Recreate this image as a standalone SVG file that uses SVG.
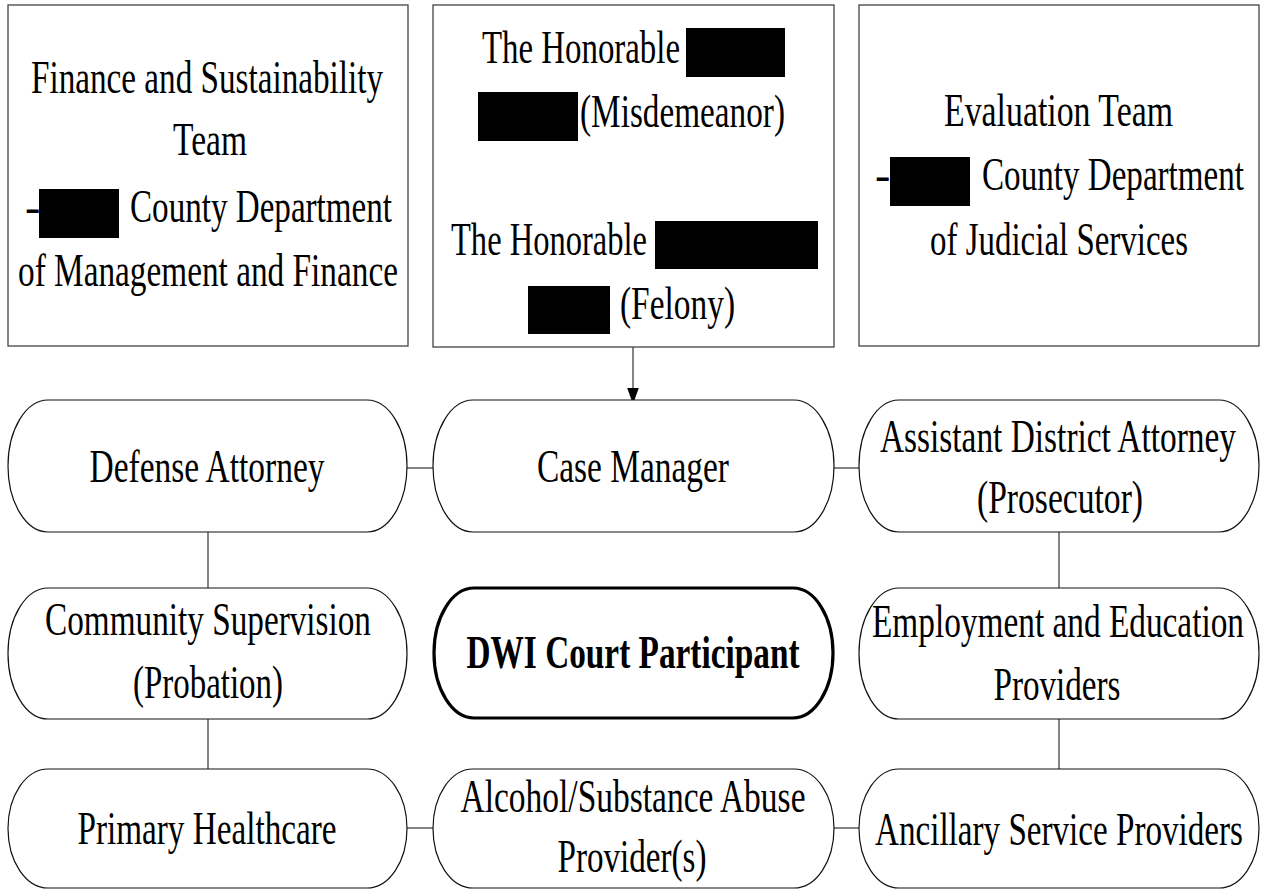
<svg xmlns="http://www.w3.org/2000/svg" width="1263" height="890" viewBox="0 0 1263 890">
<style>
.box{fill:#fff;stroke:#444;stroke-width:1.3}
.pill{fill:#fff;stroke:#111;stroke-width:1.2}
.main{fill:#fff;stroke:#000;stroke-width:3.2}
.t{font-family:"Liberation Serif","Times New Roman",serif;font-size:46px;fill:#000}
.c{text-anchor:middle}
.b{font-weight:bold}
.red{fill:#000}
.con{stroke:#333;stroke-width:1.2;fill:none}
</style>
<defs>
<marker id="ah" markerWidth="16" markerHeight="22" refX="15" refY="8" orient="auto" markerUnits="userSpaceOnUse" viewBox="0 0 22 16">
<path d="M0,0 L22,8 L0,16 Z" fill="#000"/>
</marker>
</defs>
<g id="connectors">
<line class="con" x1="633" y1="347" x2="633" y2="399" marker-end="url(#ah)"/>
<line class="con" x1="407" y1="468" x2="433" y2="468"/>
<line class="con" x1="834" y1="468" x2="859" y2="468"/>
<line class="con" x1="407" y1="828" x2="433" y2="828"/>
<line class="con" x1="834" y1="828" x2="859" y2="828"/>
<line class="con" x1="208" y1="532" x2="208" y2="588"/>
<line class="con" x1="208" y1="719" x2="208" y2="769"/>
<line class="con" x1="1059" y1="532" x2="1059" y2="588"/>
<line class="con" x1="1059" y1="719" x2="1059" y2="769"/>
</g>
<g id="finance">
<rect class="box" x="8" y="5" width="400" height="341"/>
<text class="t c" x="207" y="93" textLength="352" lengthAdjust="spacingAndGlyphs">Finance and Sustainability</text>
<text class="t c" x="210" y="155" textLength="74" lengthAdjust="spacingAndGlyphs">Team</text>
<text class="t" x="25" y="222">-</text>
<rect class="red" x="39" y="189" width="80" height="49"/>
<text class="t" x="130" y="222" textLength="262" lengthAdjust="spacingAndGlyphs">County Department</text>
<text class="t c" x="208" y="286" textLength="380" lengthAdjust="spacingAndGlyphs">of Management and Finance</text>
</g>
<g id="judges">
<rect class="box" x="433" y="5" width="401" height="342"/>
<text class="t" x="482" y="63" textLength="198" lengthAdjust="spacingAndGlyphs">The Honorable</text>
<rect class="red" x="686" y="28" width="99" height="49"/>
<rect class="red" x="478" y="92" width="100" height="49"/>
<text class="t" x="580" y="127" textLength="205" lengthAdjust="spacingAndGlyphs">(Misdemeanor)</text>
<text class="t" x="451" y="255" textLength="196" lengthAdjust="spacingAndGlyphs">The Honorable</text>
<rect class="red" x="655" y="221" width="163" height="48"/>
<rect class="red" x="528" y="286" width="82" height="48"/>
<text class="t" x="620" y="319" textLength="115" lengthAdjust="spacingAndGlyphs">(Felony)</text>
</g>
<g id="evaluation">
<rect class="box" x="859" y="5" width="400" height="341"/>
<text class="t" x="944" y="126" textLength="229" lengthAdjust="spacingAndGlyphs">Evaluation Team</text>
<text class="t" x="875" y="190">-</text>
<rect class="red" x="890" y="157" width="80" height="49"/>
<text class="t" x="982" y="190" textLength="262" lengthAdjust="spacingAndGlyphs">County Department</text>
<text class="t" x="930" y="255" textLength="258" lengthAdjust="spacingAndGlyphs">of Judicial Services</text>
</g>
<g id="defense">
<rect class="pill" x="8" y="400" width="399" height="132" rx="40" ry="66"/>
<text class="t c" x="207" y="482" textLength="235" lengthAdjust="spacingAndGlyphs">Defense Attorney</text>
</g>
<g id="casemanager">
<rect class="pill" x="433" y="400" width="401" height="132" rx="40" ry="66"/>
<text class="t c" x="633" y="482" textLength="192" lengthAdjust="spacingAndGlyphs">Case Manager</text>
</g>
<g id="ada">
<rect class="pill" x="859" y="400" width="400" height="132" rx="40" ry="66"/>
<text class="t c" x="1058" y="452" textLength="356" lengthAdjust="spacingAndGlyphs">Assistant District Attorney</text>
<text class="t c" x="1060" y="513" textLength="166" lengthAdjust="spacingAndGlyphs">(Prosecutor)</text>
</g>
<g id="community">
<rect class="pill" x="8" y="588" width="399" height="131" rx="40" ry="65.5"/>
<text class="t c" x="208" y="635" textLength="326" lengthAdjust="spacingAndGlyphs">Community Supervision</text>
<text class="t c" x="208" y="698" textLength="150" lengthAdjust="spacingAndGlyphs">(Probation)</text>
</g>
<g id="participant">
<rect class="main" x="434" y="588" width="399" height="130" rx="40" ry="65"/>
<text class="t c b" x="633" y="668" textLength="333" lengthAdjust="spacingAndGlyphs">DWI Court Participant</text>
</g>
<g id="employment">
<rect class="pill" x="859" y="588" width="400" height="131" rx="40" ry="65.5"/>
<text class="t c" x="1058" y="637" textLength="372" lengthAdjust="spacingAndGlyphs">Employment and Education</text>
<text class="t c" x="1057" y="700" textLength="127" lengthAdjust="spacingAndGlyphs">Providers</text>
</g>
<g id="healthcare">
<rect class="pill" x="8" y="769" width="399" height="119" rx="40" ry="59.5"/>
<text class="t c" x="207" y="844" textLength="259" lengthAdjust="spacingAndGlyphs">Primary Healthcare</text>
</g>
<g id="substance">
<rect class="pill" x="433" y="769" width="401" height="119" rx="40" ry="59.5"/>
<text class="t c" x="633" y="812" textLength="345" lengthAdjust="spacingAndGlyphs">Alcohol/Substance Abuse</text>
<text class="t c" x="632" y="872" textLength="149" lengthAdjust="spacingAndGlyphs">Provider(s)</text>
</g>
<g id="ancillary">
<rect class="pill" x="859" y="769" width="400" height="119" rx="40" ry="59.5"/>
<text class="t c" x="1059" y="845" textLength="368" lengthAdjust="spacingAndGlyphs">Ancillary Service Providers</text>
</g>
</svg>
